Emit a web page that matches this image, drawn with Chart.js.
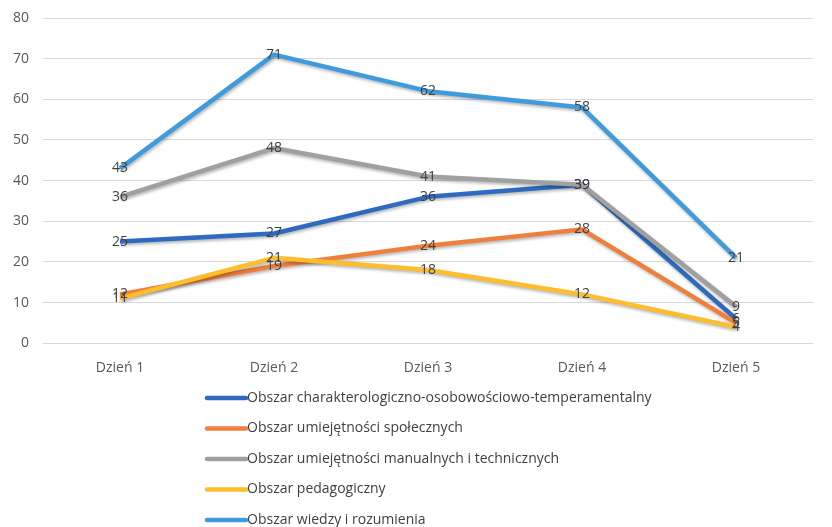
<!DOCTYPE html>
<html>
<head>
<meta charset="utf-8">
<script src="https://cdn.jsdelivr.net/npm/chart.js@4.4.1/dist/chart.umd.min.js"></script>
<style>
  html, body { margin: 0; padding: 0; background: #ffffff; }
  #wrap { width: 832px; height: 527px; position: relative; }
</style>
</head>
<body>
<div id="wrap"><canvas id="chart" width="832" height="527"></canvas></div>
<script>
// Categories (days) and the five area series
const days = ['Dzień 1', 'Dzień 2', 'Dzień 3', 'Dzień 4', 'Dzień 5'];
const seriesNames = [
  'Obszar charakterologiczno-osobowościowo-temperamentalny',
  'Obszar umiejętności społecznych',
  'Obszar umiejętności manualnych i technicznych',
  'Obszar pedagogiczny',
  'Obszar wiedzy i rozumienia'
];
const charakter = [25, 27, 36, 39, 6];
const spoleczne = [12, 19, 24, 28, 5];
const manualne = [36, 48, 41, 39, 9];
const pedagogiczny = [11, 21, 18, 12, 4];
const wiedza = [43, 71, 62, 58, 21];
const yTicks = [0, 10, 20, 30, 40, 50, 60, 70, 80];

const colors = ['#2e6bc0', '#f07f3c', '#a0a0a0', '#fdbd2c', '#3f9cdc'];
const values = [charakter, spoleczne, manualne, pedagogiczny, wiedza];

const FONT = '"Open Sans", "Liberation Sans", sans-serif';
const TEXT = '#595959';

// Soft drop shadow under each line
const shadowPlugin = {
  id: 'lineShadow',
  beforeDatasetDraw(chart) {
    const ctx = chart.ctx;
    ctx.save();
    ctx.shadowColor = 'rgba(0,0,0,0.28)';
    ctx.shadowBlur = 3;
    ctx.shadowOffsetX = 1;
    ctx.shadowOffsetY = 2;
  },
  afterDatasetDraw(chart) {
    chart.ctx.restore();
  }
};

// Value labels centred on each point
const valueLabels = {
  id: 'valueLabels',
  afterDatasetsDraw(chart) {
    const ctx = chart.ctx;
    ctx.save();
    ctx.font = '14px ' + FONT;
    ctx.fillStyle = '#404040';
    ctx.textAlign = 'center';
    ctx.textBaseline = 'middle';
    chart.data.datasets.forEach((ds, i) => {
      const meta = chart.getDatasetMeta(i);
      meta.data.forEach((pt, j) => {
        ctx.fillText(String(ds.data[j]), pt.x, pt.y);
      });
    });
    ctx.restore();
  }
};

// Vertical legend beneath the plot
const stackedLegend = {
  id: 'stackedLegend',
  afterDraw(chart) {
    const ctx = chart.ctx;
    ctx.save();
    ctx.font = '14px ' + FONT;
    ctx.textBaseline = 'middle';
    ctx.textAlign = 'left';
    const x0 = 207, lineLen = 39, top = 398, step = 30.5;
    chart.data.datasets.forEach((ds, i) => {
      const y = top + i * step;
      ctx.strokeStyle = ds.borderColor;
      ctx.lineWidth = 4.5;
      ctx.lineCap = 'round';
      ctx.beginPath();
      ctx.moveTo(x0, y);
      ctx.lineTo(x0 + lineLen, y);
      ctx.stroke();
      ctx.fillStyle = '#404040';
      ctx.fillText(ds.label, x0 + lineLen + 1, y);
    });
    ctx.restore();
  }
};

const datasets = seriesNames.map((name, i) => ({
  label: name,
  data: values[i],
  borderColor: colors[i],
  backgroundColor: colors[i],
  borderWidth: 4.5,
  pointRadius: 0,
  pointHoverRadius: 0,
  tension: 0,
  borderJoinStyle: 'round',
  fill: false,
  order: seriesNames.length - i
}));

new Chart(document.getElementById('chart'), {
  type: 'line',
  data: { labels: days, datasets },
  plugins: [shadowPlugin, valueLabels, stackedLegend],
  options: {
    responsive: false,
    animation: false,
    devicePixelRatio: 1,
    layout: { padding: { top: 18, right: 19, bottom: 143, left: 0 } },
    plugins: {
      legend: { display: false },
      tooltip: { enabled: false }
    },
    scales: {
      x: {
        offset: true,
        grid: { display: false },
        border: { display: false },
        ticks: { color: TEXT, font: { family: FONT, size: 14 }, padding: 8 }
      },
      y: {
        min: 0,
        max: 80,
        afterBuildTicks(axis) { axis.ticks = yTicks.map(v => ({ value: v })); },
        afterFit(axis) { axis.width = 43; axis.paddingTop = 0; axis.paddingBottom = 0; },
        grid: { color: '#d9d9d9', lineWidth: 1, drawTicks: false },
        border: { display: false },
        ticks: { color: TEXT, font: { family: FONT, size: 14 }, padding: 14 }
      }
    }
  }
});
</script>
</body>
</html>
